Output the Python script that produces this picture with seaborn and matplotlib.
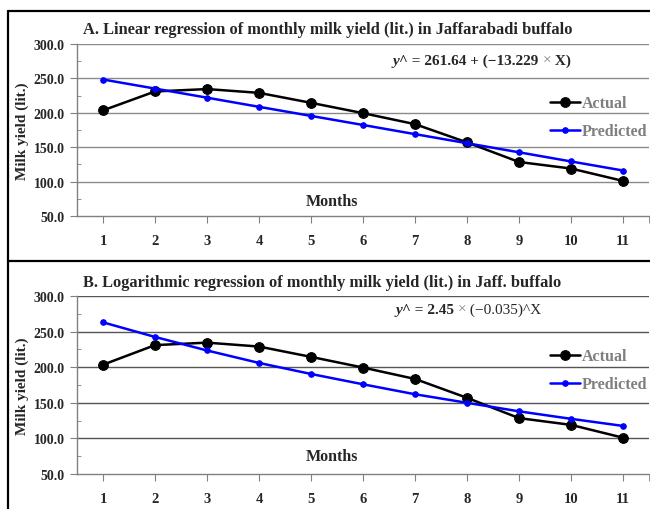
import numpy as np
import pandas as pd
import seaborn as sns
import matplotlib.pyplot as plt
from matplotlib.lines import Line2D
from matplotlib.ticker import MultipleLocator, FixedLocator

# values
months = [1, 2, 3, 4, 5, 6, 7, 8, 9, 10, 11]
actual = [203.5, 231.0, 234.5, 229.0, 214.5, 199.5, 183.5, 157.0, 128.5, 119.0, 101.0]
pred_linear = [248.4, 235.2, 222.0, 208.7, 195.5, 182.3, 169.0, 155.8, 142.6, 129.3, 116.1]
pred_log = [263.0, 242.5, 223.5, 206.0, 190.5, 176.0, 162.0, 150.0, 138.0, 127.5, 117.5]
y_ticks = [50, 100, 150, 200, 250, 300]

titles = ["A. Linear regression of monthly milk yield (lit.) in Jaffarabadi buffalo",
          "B. Logarithmic regression of monthly milk yield (lit.) in Jaff. buffalo"]
equations = [["^ = 261.64 + (\u221213.229 ", "\u00d7", " X)"],
             ["^ = 2.45 ", "\u00d7", " (\u22120.035)^X"]]

sns.set_style("white")
plt.rcParams['font.family'] = ['Liberation Serif', 'DejaVu Serif']
plt.rcParams['font.weight'] = 'bold'

W, H = 650, 510
fig = plt.figure(figsize=(6.5, 5.1), dpi=100)


def px_axes(left, top, right, bottom):
    return fig.add_axes([left / W, 1 - bottom / H, (right - left) / W, (bottom - top) / H])


# panel frames
for seg in [((8, 8), (12, 510)), ((8, 650), (12, 12)), ((8, 650), (262, 262))]:
    fig.add_artist(Line2D([seg[0][0] / W, seg[0][1] / W], [1 - seg[1][0] / H, 1 - seg[1][1] / H],
                          transform=fig.transFigure, color='black', lw=1.6))

panels = [
    dict(box=(77, 45, 649, 217), pred=pred_linear, grid='#8a8a8a', title_y=30,
         months_y=0.087, leg_y=0.573, eq=(0.552, 0.903)),
    dict(box=(77, 297, 649, 475), pred=pred_log, grid='#555555', title_y=283,
         months_y=0.10, leg_y=0.583, eq=(0.556, 0.923)),
]

for i, p in enumerate(panels):
    ax = px_axes(*p['box'])
    df = pd.DataFrame({'Month': months, 'Actual': actual, 'Predicted': p['pred']})
    sns.lineplot(data=df, x='Month', y='Actual', ax=ax, color='black', lw=1.8,
                 marker='o', markersize=7, markeredgecolor='black', label='Actual')
    sns.lineplot(data=df, x='Month', y='Predicted', ax=ax, color='#0000ff', lw=1.8,
                 marker='o', markersize=4, markeredgecolor='#0000ff', label='Predicted')

    ax.set_xlim(0.5, 11.5)
    ax.set_ylim(50, 300)
    ax.set_xticks(months)
    ax.set_xticklabels([str(m) for m in months], fontsize=10.5, fontweight='bold')
    ax.xaxis.set_minor_locator(FixedLocator([11.5]))
    ax.set_yticks(y_ticks)
    ax.set_yticklabels([f"{v:.1f}" for v in y_ticks], fontsize=10, fontweight='bold')
    ax.yaxis.set_minor_locator(MultipleLocator(25))
    ax.tick_params(axis='x', which='both', direction='out', length=5, color='#808080', pad=8)
    ax.tick_params(axis='y', which='major', direction='out', length=5, color='#808080', pad=4)
    ax.tick_params(axis='y', which='minor', direction='in', length=3, color='#808080')
    ax.tick_params(left=True, bottom=True)
    ax.tick_params(axis='y', which='minor', left=True)
    ax.tick_params(axis='x', which='minor', bottom=True)

    for v in y_ticks[1:]:
        ax.axhline(v, color=p['grid'], lw=1, zorder=0)
    for s in ['top', 'right']:
        ax.spines[s].set_visible(False)
    for s in ['left', 'bottom']:
        ax.spines[s].set_color('#808080')
        ax.spines[s].set_linewidth(1)

    ax.set_xlabel('')
    ax.set_ylabel('Milk yield (lit.)', fontsize=11, fontweight='bold', labelpad=3)
    ax.text(0.40, p['months_y'], 'Months', transform=ax.transAxes, fontsize=11.5,
            fontweight='bold', ha='left', va='center')

    fig.text(83 / W, 1 - p['title_y'] / H, titles[i], fontsize=11.8, fontweight='bold',
             ha='left', va='center')

    # equation built from pieces
    t = ax.text(p['eq'][0], p['eq'][1], 'y', transform=ax.transAxes, fontsize=11,
                fontweight='bold', style='italic', ha='left', va='center')
    parts = equations[i]
    t = ax.annotate(parts[0], xy=(1, 0), xycoords=t, va='bottom', ha='left',
                    fontsize=11, fontweight='bold')
    t = ax.annotate(parts[1], xy=(1, 0), xycoords=t, va='bottom', ha='left',
                    fontsize=11, fontweight='normal', color='#808080')
    ax.annotate(parts[2], xy=(1, 0), xycoords=t, va='bottom', ha='left',
                fontsize=11, fontweight='bold' if i == 0 else 'normal')

    leg = ax.legend(loc='center left', bbox_to_anchor=(0.815, p['leg_y']), frameon=False,
                    handlelength=1.9, handletextpad=0.1, labelspacing=0.75,
                    prop={'size': 11.5, 'weight': 'bold'}, borderaxespad=0)
    for txt in leg.get_texts():
        txt.set_color('#7f7f7f')

fig.savefig('out.png', dpi=100)
